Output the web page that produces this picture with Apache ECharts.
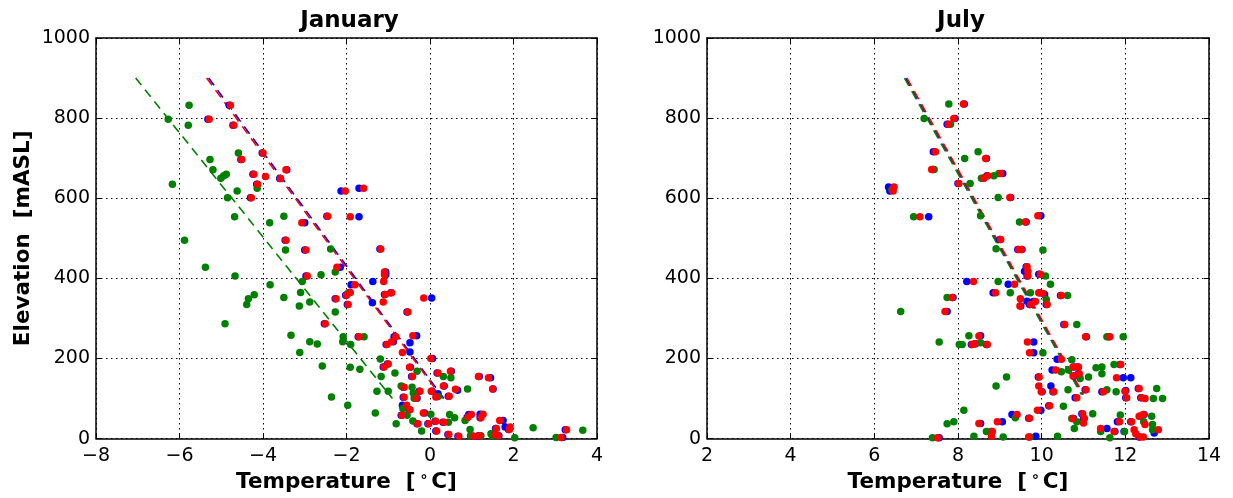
<!DOCTYPE html>
<html>
<head>
<meta charset="utf-8">
<script src="https://cdn.jsdelivr.net/npm/echarts@6/dist/echarts.min.js"></script>
<style>
  html, body { margin: 0; padding: 0; background: #fff; }
  #chart { width: 1233px; height: 498px; }
</style>
</head>
<body>
<div id="chart"></div>
<script>
// ---- January: station temperature vs elevation [T (°C), elevation (m)] ----
const janBlue = [[-4.81,832],[-5.32,797],[-4.72,782],[-4.02,713],[-4.53,697],[-3.43,671],[-3.60,649],[-4.24,660],[-4.15,635],[-4.30,601],[-2.13,618],[-1.70,625],[-2.47,555],[-1.70,554],[-3.00,539],[-3.47,495],[-3.00,471],[-1.20,473],[-2.97,406],[-2.15,428],[-1.89,384],[-1.93,365],[-2.02,358],[-1.98,335],[-2.27,349],[-1.37,392],[-1.06,416],[-1.06,409],[-1.09,360],[-0.94,364],[-1.38,339],[0.04,351],[-0.55,316],[-2.53,287],[-1.72,254],[-0.86,254],[-0.32,257],[-1.05,235],[-0.88,242],[-0.48,239],[-0.48,216],[0.06,200],[-1.12,179],[-1.02,186],[-0.47,178],[-0.44,155],[0.17,164],[0.51,168],[1.18,155],[1.45,152],[1.51,124],[0.34,131],[-0.64,128],[-0.26,118],[0.05,118],[0.66,121],[-0.64,103],[-0.31,101],[0.19,112],[0.44,106],[-0.66,83],[-0.50,72],[-0.69,58],[-0.13,64],[0.12,43],[0.31,41],[-0.31,37],[-0.05,37],[0.14,19],[0.93,60],[0.89,53],[1.20,61],[1.20,52],[1.75,45],[1.57,25],[1.80,29],[1.88,23],[0.43,10],[0.67,6],[1.03,6],[1.16,7],[1.54,10],[1.65,7],[3.18,3],[3.24,22]];
const janRed = [[-4.78,832],[-5.29,797],[-4.70,782],[-4.00,713],[-4.51,697],[-3.45,671],[-3.58,649],[-3.94,654],[-4.22,660],[-4.13,635],[-4.28,601],[-2.03,618],[-1.59,625],[-2.45,555],[-1.91,554],[-3.07,539],[-3.45,495],[-2.97,471],[-1.18,473],[-2.94,406],[-2.23,428],[-1.80,384],[-1.91,365],[-2.00,358],[-1.96,335],[-2.25,349],[-1.11,392],[-1.09,416],[-1.09,409],[-1.07,360],[-0.92,364],[-1.12,341],[-0.15,351],[-0.53,316],[-2.51,287],[-1.70,254],[-0.82,254],[-0.41,257],[-1.03,235],[-0.92,242],[-0.66,215],[0.02,200],[-1.10,179],[-1.00,186],[-0.49,178],[-0.42,155],[0.19,164],[0.49,168],[1.16,155],[1.40,152],[1.50,124],[0.32,131],[-0.62,128],[-0.24,118],[0.03,118],[0.61,123],[-0.62,103],[-0.33,101],[0.14,104],[0.46,106],[-0.56,83],[-0.48,72],[-0.67,58],[-0.16,64],[0.14,43],[0.33,41],[-0.29,37],[-0.03,37],[0.16,19],[0.99,60],[0.91,53],[1.27,61],[1.22,52],[1.67,45],[1.59,25],[1.92,29],[1.90,23],[0.45,10],[0.69,6],[1.05,6],[1.18,7],[1.56,10],[1.63,7],[3.14,3],[3.27,22]];
const janGreen = [[-5.77,832],[-6.27,797],[-5.79,782],[-6.17,635],[-4.59,713],[-5.27,697],[-5.20,671],[-4.88,660],[-4.94,656],[-5.01,650],[-4.62,618],[-4.85,601],[-4.14,625],[-4.68,554],[-3.84,539],[-3.50,555],[-5.88,495],[-3.46,471],[-5.38,428],[-4.67,406],[-3.83,384],[-4.21,359],[-4.35,349],[-4.39,335],[-4.91,287],[-3.50,352],[-3.10,365],[-3.13,331],[-2.88,341],[-3.06,392],[-2.61,409],[-2.38,473],[-2.27,416],[-2.27,316],[-1.97,362],[-3.33,258],[-2.88,242],[-2.70,236],[-3.12,215],[-2.58,181],[-2.08,254],[-2.09,242],[-1.90,235],[-1.58,254],[-2.36,104],[-1.97,83],[-1.91,178],[-1.68,173],[-1.19,199],[-1.17,155],[-1.27,118],[-1.00,118],[-0.84,164],[-1.31,64],[-0.81,37],[-0.69,131],[-0.65,75],[-0.55,58],[-0.43,128],[-0.40,114],[-0.38,101],[-0.41,44],[-0.31,168],[-0.20,19],[0.02,61],[0.19,105],[0.32,155],[0.47,60],[0.50,152],[0.59,52],[0.44,41],[0.84,45],[0.90,124],[0.96,23],[0.97,7],[1.22,7],[1.46,12],[1.49,7],[1.61,7],[2.03,2],[2.47,27],[3.02,3],[3.66,21]];

// ---- July ----
const julBlue = [[7.93,799],[7.74,785],[7.41,716],[7.40,672],[6.34,628],[6.37,618],[7.30,554],[8.15,835],[8.68,699],[8.60,650],[8.69,656],[9.07,662],[8.00,637],[9.26,602],[9.98,556],[9.63,541],[9.00,497],[7.88,352],[7.74,317],[7.55,2],[9.43,472],[9.53,472],[9.63,429],[9.59,418],[9.65,406],[9.93,410],[8.21,392],[9.20,385],[8.84,364],[9.95,364],[10.07,360],[9.65,343],[9.80,342],[9.71,335],[9.50,331],[10.11,335],[10.45,357],[10.53,285],[11.07,254],[11.60,254],[8.54,257],[8.42,237],[8.68,235],[8.32,235],[9.81,241],[9.81,214],[10.37,198],[10.25,171],[10.78,179],[10.86,179],[10.88,162],[10.77,156],[11.87,185],[11.95,152],[12.13,152],[9.92,154],[10.22,131],[10.01,117],[10.27,117],[10.80,102],[11.04,122],[11.44,117],[12.01,120],[12.01,102],[12.31,125],[12.37,102],[10.17,82],[9.98,71],[9.29,60],[9.69,51],[8.54,38],[9.06,42],[8.80,18],[9.86,6],[10.76,50],[10.96,62],[11.00,50],[11.56,25],[11.75,18],[11.81,42],[11.97,18],[12.13,42],[12.35,56],[12.45,60],[12.69,14],[12.33,4]];
const julRed = [[7.90,799],[7.77,785],[7.46,716],[7.37,672],[6.47,628],[6.45,618],[7.09,554],[8.13,835],[8.66,699],[8.62,650],[8.71,656],[9.02,662],[8.02,637],[9.24,602],[9.91,556],[9.61,541],[9.02,497],[7.86,352],[7.69,317],[7.51,2],[9.45,472],[9.51,472],[9.65,429],[9.67,418],[9.67,406],[9.97,410],[8.37,392],[9.35,385],[8.90,364],[9.93,364],[10.03,362],[9.49,349],[9.85,342],[9.73,335],[9.48,331],[10.13,335],[10.47,357],[10.55,285],[11.05,254],[11.63,254],[8.50,256],[8.40,237],[8.70,235],[8.34,235],[9.66,241],[9.71,214],[10.47,198],[10.34,171],[10.75,179],[10.88,179],[10.90,162],[10.75,156],[11.89,185],[11.79,152],[9.94,154],[9.93,131],[9.99,117],[10.29,117],[10.84,102],[11.06,122],[11.48,117],[11.99,118],[12.03,102],[12.33,125],[12.39,102],[12.47,100],[10.19,82],[9.90,71],[9.41,60],[9.71,51],[8.50,38],[8.94,42],[8.82,18],[8.80,6],[9.69,4],[10.74,50],[10.98,62],[11.02,50],[11.00,39],[11.41,25],[11.73,18],[11.86,42],[12.15,42],[12.21,22],[12.25,12],[12.33,56],[12.43,60],[12.47,35],[12.79,22],[12.35,4],[12.43,4]];
const julGreen = [[7.78,835],[7.19,799],[7.82,785],[7.43,672],[6.42,622],[6.94,554],[8.48,716],[8.16,699],[8.56,650],[8.86,656],[8.98,662],[8.29,637],[8.96,602],[9.47,541],[8.54,556],[7.74,352],[6.63,317],[7.55,241],[8.03,235],[7.74,37],[7.90,42],[7.39,2],[8.91,474],[10.03,471],[10.09,406],[8.96,392],[10.21,385],[9.25,364],[9.73,364],[10.11,347],[10.62,357],[10.84,285],[11.56,254],[11.95,254],[8.26,257],[8.10,235],[8.54,239],[10.03,214],[10.72,197],[10.47,167],[10.64,171],[10.92,150],[11.12,154],[11.30,177],[11.44,179],[11.44,162],[11.73,185],[9.16,154],[8.91,131],[10.63,122],[11.56,122],[11.78,117],[12.75,125],[12.67,100],[12.89,100],[10.52,81],[8.14,71],[11.22,62],[9.37,52],[8.68,18],[8.38,6],[9.08,4],[10.38,6],[10.72,50],[10.84,42],[10.78,25],[11.41,18],[11.63,2],[11.88,59],[11.98,18],[12.44,42],[12.63,56],[12.65,35],[12.65,22],[9.72,4]];

// ---- Lapse-rate fits (end points of each fitted line) ----
const janFitBlue  = [[-5.30,900],[0.33,100]];
const janFitRed   = [[-5.35,900],[0.30,100]];
const janFitGreen = [[-7.05,900],[-0.90,100]];
const julFitBlue  = [[6.75,900],[10.98,110]];
const julFitRed   = [[6.78,900],[11.00,110]];
const julFitGreen = [[6.72,900],[10.95,110]];

// ---- Axis settings ----
const panelTitles = ['January', 'July'];
const xRanges = [[-8, 4], [2, 14]];
const yRange = [0, 1000];
const xStep = 2, yStep = 200;

const BLUE = '#0000ff', RED = '#ff0000', GREEN = '#008000';
const FONT = 'DejaVu Sans';

const chart = echarts.init(document.getElementById('chart'), null, { renderer: 'canvas' });

const grids = [
  { left: 96, top: 38, width: 501, height: 401 },
  { left: 707, top: 38, width: 502, height: 401 }
];

const minus = v => String(v).replace('-', '\u2212');
const plain = v => String(v);

const xAxes = [], yAxes = [];
grids.forEach((g, i) => {
  const common = {
    gridIndex: i,
    type: 'value',
    axisLine: { show: true, onZero: false, lineStyle: { color: '#000', width: 1.5 } },
    axisTick: { show: true, inside: true, length: 5, lineStyle: { color: '#000', width: 1 } }
  };
  xAxes.push(Object.assign({}, common, {
    position: 'bottom',
    min: xRanges[i][0], max: xRanges[i][1], interval: xStep,
    axisLabel: { color: '#000', fontFamily: FONT, fontSize: 19, margin: 8, formatter: minus },
    splitLine: { show: true, lineStyle: { color: '#000', width: 1, type: [1.5, 3.5] } },
    name: 'Temperature  [{deg|∘}C]',
    nameLocation: 'middle',
    nameGap: 30,
    nameTextStyle: {
      color: '#000', fontFamily: FONT, fontSize: 21.5, fontWeight: 'bold',
      rich: { deg: { fontFamily: FONT, fontSize: 14, verticalAlign: 'top', padding: [0, 3, 9, 4], color: '#000' } }
    }
  }));
  xAxes.push(Object.assign({}, common, {
    position: 'top',
    min: xRanges[i][0], max: xRanges[i][1], interval: xStep,
    axisLabel: { show: false },
    splitLine: { show: false }
  }));
  yAxes.push(Object.assign({}, common, {
    position: 'left',
    min: yRange[0], max: yRange[1], interval: yStep,
    axisLabel: { color: '#000', fontFamily: FONT, fontSize: 19, margin: 6, formatter: plain },
    splitLine: { show: true, lineStyle: { color: '#000', width: 1, type: [1.5, 3.5] } },
    name: i === 0 ? 'Elevation  [mASL]' : '',
    nameLocation: 'middle',
    nameGap: 62,
    nameRotate: 90,
    nameTextStyle: { color: '#000', fontFamily: FONT, fontSize: 21.5, fontWeight: 'bold' }
  }));
  yAxes.push(Object.assign({}, common, {
    position: 'right',
    min: yRange[0], max: yRange[1], interval: yStep,
    axisLabel: { show: false },
    splitLine: { show: false }
  }));
});

function scatter(data, color, panel, z) {
  return {
    type: 'scatter', data, xAxisIndex: panel * 2, yAxisIndex: panel * 2,
    symbol: 'circle', symbolSize: 7.5, z,
    itemStyle: { color, opacity: 1, borderWidth: 0 },
    silent: true, animation: false
  };
}
function fit(data, color, panel, z) {
  return {
    type: 'line', data, xAxisIndex: panel * 2, yAxisIndex: panel * 2,
    showSymbol: false, symbol: 'none', z,
    lineStyle: { color, width: 1.6, type: [9, 6] },
    silent: true, animation: false
  };
}

const series = [
  fit(janFitGreen, GREEN, 0, 2), fit(janFitBlue, BLUE, 0, 2), fit(janFitRed, RED, 0, 2),
  scatter(janBlue, BLUE, 0, 3), scatter(janGreen, GREEN, 0, 4), scatter(janRed, RED, 0, 5),
  fit(julFitBlue, BLUE, 1, 2), fit(julFitGreen, GREEN, 1, 2), fit(julFitRed, RED, 1, 2),
  scatter(julBlue, BLUE, 1, 3), scatter(julGreen, GREEN, 1, 4), scatter(julRed, RED, 1, 5)
];

chart.setOption({
  backgroundColor: '#fff',
  animation: false,
  title: panelTitles.map((t, i) => ({
    text: t,
    left: grids[i].left + grids[i].width / 2 - 2,
    textAlign: 'center',
    top: 5,
    textStyle: { color: '#000', fontFamily: FONT, fontSize: 23, fontWeight: 'bold' }
  })),
  grid: grids,
  xAxis: xAxes,
  yAxis: yAxes,
  series
});
</script>
</body>
</html>
